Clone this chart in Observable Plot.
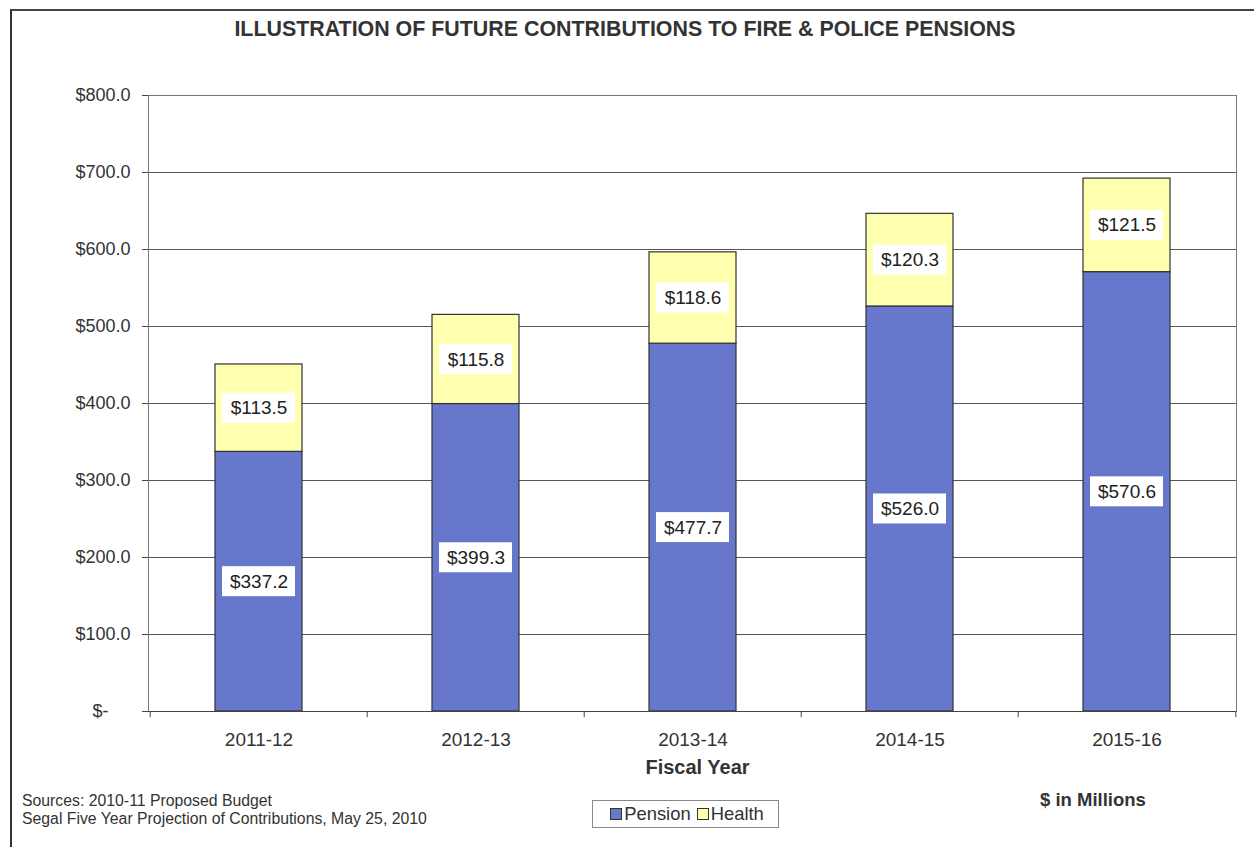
<!DOCTYPE html>
<html>
<head>
<meta charset="utf-8">
<script src="https://cdn.jsdelivr.net/npm/d3@7"></script>
<script src="https://cdn.jsdelivr.net/npm/@observablehq/plot@0.6"></script>
<style>
  html, body { margin: 0; padding: 0; background: #fff; }
  body { width: 1254px; height: 847px; overflow: hidden; position: relative;
         font-family: "Liberation Sans", Arial, sans-serif; color: #333; }
  #frame { position: absolute; left: 10px; top: 9px; width: 1260px; height: 860px;
           border-left: 2px solid #333; border-top: 2px solid #444; box-sizing: border-box; }
  #title { position: absolute; left: 0; width: 1250px; top: 17px; text-align: center;
           font-weight: bold; font-size: 21.4px; color: #333; }
  #chart { position: absolute; left: 0; top: 60px; }
  #sources { position: absolute; left: 22px; top: 792px; font-size: 15.8px; line-height: 18px; color: #333; }
  #legend { position: absolute; left: 592px; top: 800px; width: 187px; height: 28px; box-sizing: border-box;
            border: 1px solid #888; display: flex; align-items: center; justify-content: center;
            font-size: 18.4px; color: #333; gap: 0; }
  #legend .sw { display: inline-block; width: 10px; height: 10px; border: 1px solid #333; margin: 0 2px 0 3px; }
  #legend .sw + span + .sw { margin-left: 6px; }
  #millions { position: absolute; left: 1040px; top: 789px; font-size: 18.5px; font-weight: bold; color: #333; }
</style>
</head>
<body>
<div id="frame"></div>
<div id="title">ILLUSTRATION OF FUTURE CONTRIBUTIONS TO FIRE &amp; POLICE PENSIONS</div>
<div id="chart"></div>
<div id="sources">Sources: 2010-11 Proposed Budget<br>Segal Five Year Projection of Contributions, May 25, 2010</div>
<div id="legend"></div>
<div id="millions">$ in Millions</div>
<script>
const categories = ["2011-12", "2012-13", "2013-14", "2014-15", "2015-16"];
const pension = [337.2, 399.3, 477.7, 526.0, 570.6];
const health = [113.5, 115.8, 118.6, 120.3, 121.5];
const seriesNames = ["Pension", "Health"];
const seriesColors = ["#6677CC", "#FFFFB0"];
const yTicks = [0, 100, 200, 300, 400, 500, 600, 700, 800];

const data = categories.flatMap((c, i) => [
  {year: c, series: "Pension", value: pension[i], base: 0},
  {year: c, series: "Health", value: health[i], base: pension[i]}
]);
const mid = d => d.base + d.value / 2;
const fmt = v => "$" + v.toFixed(1);

const W = 1254, H = 730, mL = 148, mR = 18, mT = 35, mB = 79;
const half = (W - mL - mR) / categories.length / 2;

const chart = Plot.plot({
  width: W, height: H,
  marginLeft: mL, marginRight: mR, marginTop: mT, marginBottom: mB,
  style: {fontFamily: '"Liberation Sans", Arial, sans-serif', fontSize: "18px", color: "#333", background: "transparent"},
  x: {type: "band", domain: categories, paddingInner: 0.6, paddingOuter: 0.3, align: 0.5},
  y: {domain: [0, 800]},
  color: {domain: seriesNames, range: seriesColors},
  marks: [
    Plot.ruleY(yTicks.filter(d => d > 0), {stroke: "#555", strokeWidth: 1}),
    Plot.frame({stroke: "#777", strokeWidth: 1}),
    Plot.barY(data, {x: "year", y1: "base", y2: d => d.base + d.value, fill: "series", stroke: "#333", strokeWidth: 1.2}),
    Plot.barY(data, {x: "year", y1: mid, y2: mid, insetTop: -15, insetBottom: -15, insetLeft: 7, insetRight: 7, fill: "white"}),
    Plot.text(data, {x: "year", y: mid, text: d => fmt(d.value), fontSize: 19, fill: "#222"}),
    Plot.ruleY([0], {stroke: "#444", strokeWidth: 1.2}),
    Plot.axisY(yTicks, {tickFormat: d => d === 0 ? "" : fmt(d), tickSize: 6, tickPadding: 12, fontSize: 18, stroke: "#444", label: null}),
    Plot.text([0], {y: d => d, frameAnchor: "left", dx: -40, textAnchor: "end", text: () => "$-", fontSize: 18, fill: "#333"}),
    Plot.axisX({tickSize: 0, tickPadding: 21, fontSize: 19, label: null}),
    Plot.ruleX(categories, {x: d => d, dx: -half, y1: 0, y2: -8, stroke: "#444"}),
    Plot.ruleX(categories.slice(-1), {x: d => d, dx: half, y1: 0, y2: -8, stroke: "#444"}),
    Plot.text(["Fiscal Year"], {frameAnchor: "bottom", dy: 62, dx: 5, text: d => d, fontSize: 20, fontWeight: "bold", fill: "#333"})
  ]
});
document.getElementById("chart").appendChild(chart);

const legend = document.getElementById("legend");
seriesNames.forEach((s, i) => {
  const sw = document.createElement("span");
  sw.className = "sw";
  sw.style.background = seriesColors[i];
  legend.appendChild(sw);
  const t = document.createElement("span");
  t.textContent = s;
  legend.appendChild(t);
});
</script>
</body>
</html>
